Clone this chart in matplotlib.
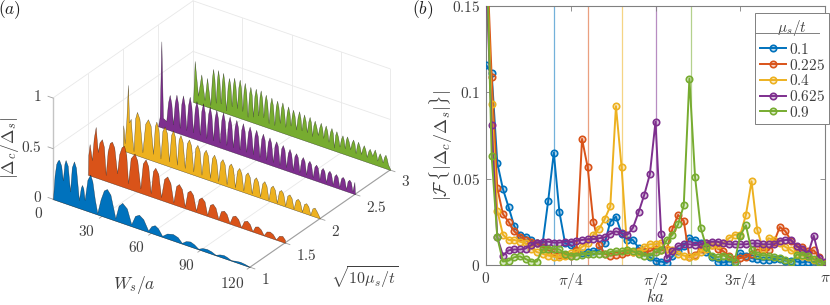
import numpy as np
import matplotlib
matplotlib.use('Agg')
import matplotlib.pyplot as plt
from matplotlib.colors import to_rgba
from mpl_toolkits.mplot3d.art3d import Poly3DCollection

W, H = 830, 305

colors = ['#0072BD', '#D95319', '#EDB120', '#7E2F8E', '#77AC30']
mu_labels = ['$0.1$', '$0.225$', '$0.4$', '$0.625$', '$0.9$']
sqrt_mu = [1, 1.5, 2, 2.5, 3]

# panel (a): outlines
blue_ws = [0, 1, 2, 3, 3.7, 5, 6, 7, 7.7, 9, 10.4, 11.5, 12.8, 14, 15.8, 17, 17.7, 18.5, 19.3, 21, 22.7, 24, 25.5, 27,
           29, 31, 32.9, 35, 38, 40, 42.2, 45, 47.7, 50, 52.4, 55, 58, 60, 62, 64, 66.5, 69.5, 73, 76, 78.5,
           81, 83.6, 86, 88.5, 91, 93.8, 96.5, 99, 101.5, 104, 106, 108.5, 111, 114, 117, 120]
blue_val = [0, .24, .36, .4, .41, .36, .22, .39, .43, .38, .135, .38, .445, .39, .08, .21, .24, .21, .1, .31, .37, .31, .14, .015,
            .16, .26, .285, .24, .025, .16, .2, .16, .02, .115, .14, .11, .015, .07, .09, .07, .01, .05, .065, .05, .008,
            .04, .05, .035, .006, .027, .033, .024, .005, .023, .03, .022, .004, .014, .02, .014, 0]

orange_ws = [0, .2, 1, 2.4, 3.5, 4.7, 5.3, 6, 7, 8.5, 9.7, 10.8, 12, 13.3, 14.6, 16, 17.7, 19, 20.5, 22, 23.3, 24.4,
             26, 28.4, 30, 31.9, 33.4, 35.1, 36.7, 38.2, 39.6, 41, 42.8, 44.5, 46.4, 48.3, 50.2, 52, 53.7, 55.4, 57.2, 59,
             60.6, 62.3, 64, 65.8, 67.5, 69.2, 71, 72.6, 74.3, 76, 77.7, 79.4, 81, 82.8, 84.5, 86.2, 88, 89.7, 91.5, 93.3,
             95, 96.9, 98.6, 100.2, 101.8, 103.5, 105.3, 107, 108.8, 110.7, 112.6, 114.5, 116.4, 118.4, 120]
orange_val = [0, .2, .31, .16, .38, .5, .38, .26, .36, .4, .33, .06, .3, .39, .41, .36, .115, .31, .39, .41, .33, .055,
              .31, .37, .31, .045, .3, .35, .29, .035, .26, .3, .25, .03, .22, .255, .2, .02, .19, .22, .18, .018,
              .17, .195, .16, .015, .14, .165, .135, .012, .12, .14, .11, .01, .095, .11, .085, .008, .085, .1, .075, .006,
              .075, .09, .065, .005, .06, .07, .05, .004, .05, .06, .045, .004, .05, .06, .03]

yellow_ws = [0, .1, .5, 1, 2, 3, 3.7, 4.7, 5.3, 6.4, 7.4, 8.5, 10, 11.8, 13.5, 15.2, 16.8, 18.3, 19.4, 20.3, 21.6, 22.8,
             24, 25.4, 26.8, 28, 29.3, 30.5, 31.7, 32.8, 33.9, 35, 36.3, 37.6, 38.9, 40.2, 41.5, 42.8, 44, 45.3, 46.6, 47.8,
             49.1, 50.4, 51.7, 53, 54.2, 55.5, 56.8, 58, 59.3, 60.6, 61.9, 63.1, 64.4, 65.7, 67, 68.2, 69.5, 70.8, 72.1, 73.3,
             74.6, 75.9, 77.2, 78.4, 79.7, 81, 82.3, 83.5, 84.8, 86.1, 87.4, 88.6, 89.9, 91.2, 92.5, 93.7, 95, 96.3, 97.6,
             98.8, 100.1, 101.4, 102.7, 103.9, 105.2, 106.5, 107.8, 109, 110.3, 111.6, 112.9, 114.1, 115.4, 116.7, 118, 119.4, 120]
yellow_val = [0, .25, .2, .08, .3, .665, .3, .34, .2, .03, .36, .43, .37, .05, .34, .395, .34, .07, .35, .4, .33, .05,
              .33, .38, .32, .05, .32, .37, .31, .045, .3, .35, .29, .04, .29, .335, .28, .035, .27, .31, .26, .03,
              .25, .29, .24, .028, .23, .27, .22, .025, .22, .255, .21, .022, .21, .24, .2, .02, .19, .225, .18, .018,
              .18, .21, .17, .016, .16, .19, .15, .014, .15, .18, .14, .012, .14, .165, .13, .01, .13, .15, .12,
              .01, .115, .135, .105, .008, .1, .12, .095, .008, .09, .105, .08, .006, .075, .09, .06, .02, 0]

purple_ws = [0, 1, 2, 3, 5, 6.1, 7.1, 8.1, 9.1, 10.2, 11.2, 12.2, 13.2, 14.2, 15.2, 16.2, 17.2, 18.3, 19.3, 20.3, 21.3,
             22.4, 23.4, 24.4, 25.4, 26.4, 27.4, 28.4, 29.4, 30.5, 31.5, 32.5, 33.5, 34.5, 35.5, 36.5, 37.5, 38.6, 39.6,
             40.6, 41.6, 42.6, 43.6, 44.6, 45.6, 46.7, 47.7, 48.7, 49.7, 50.7, 51.7, 52.7, 53.7, 54.8, 55.8, 56.8, 57.8,
             58.8, 59.8, 60.8, 61.8, 62.9, 63.9, 64.9, 65.9, 66.9, 67.9, 68.9, 69.9, 71, 72, 73, 74, 75, 76, 77, 78,
             79.1, 80.1, 81.1, 82.1, 83.1, 84.1, 85.1, 86.1, 87.2, 88.2, 89.2, 90.2, 91.2, 92.2, 93.2, 94.2, 95.3, 96.3,
             97.3, 98.3, 99.3, 100.3, 101.3, 102.3, 103.4, 104.4, 105.4, 106.4, 107.4, 108.4, 109.4, 110.4, 111.5, 112.5,
             113.5, 114.5, 115.5, 116.5, 117.5, 118.4, 119.6, 120]
purple_val = [0, .1, .85, .1, .08, .27, .35, .27, .07, .29, .375, .29, .06, .3, .39, .3, .06, .31, .4, .31, .06,
              .3, .38, .3, .06, .3, .38, .3, .05, .29, .37, .29, .05, .28, .36, .28, .05, .28, .36,
              .28, .05, .27, .34, .27, .05, .26, .33, .26, .05, .25, .32, .25, .05, .25, .31, .25, .05,
              .24, .3, .24, .045, .23, .285, .23, .04, .22, .27, .22, .04, .21, .255, .21, .035, .2, .24, .2, .035,
              .18, .225, .18, .03, .17, .205, .17, .03, .155, .19, .155, .03, .145, .175, .145, .025, .135, .16,
              .135, .025, .125, .15, .125, .02, .12, .145, .12, .02, .11, .135, .11, .02, .11, .13,
              .11, .02, .105, .125, .105, .02, .12, 0]

green_ws = [0, 1, 3, 5, 7, 8.5, 10.5, 11.5, 12.2, 13, 13.8, 14.6, 15.2, 16, 16.8, 17.6, 18.3, 19.1, 20, 21.1, 21.9, 22.7, 23.5,
            24.3, 25, 25.8, 26.7, 27.6, 28.4, 29.2, 30, 30.8, 31.5, 32.3, 33.2, 34.1, 34.9, 35.7, 36.5, 37.4, 38.2, 39, 39.7,
            40.5, 41.2, 42, 42.8, 43.6, 44.3, 45.1, 46, 46.9, 47.7, 48.6, 49.5, 50.4, 51.2, 52, 52.8, 53.6, 54.4, 55.3, 56.2,
            57.1, 57.9, 58.7, 59.4, 60.2, 60.9, 61.8, 62.7, 63.7, 64.6, 65.4, 66.1, 66.9, 67.6, 68.5, 69.3, 70.2, 71, 71.8,
            72.5, 73.3, 74.1, 75, 76, 76.9, 77.8, 78.6, 79.3, 80, 80.8, 81.7, 82.5, 83.4, 84.3, 85.1, 85.8, 86.6, 87.3, 88.3,
            89.2, 90.1, 91, 91.7, 92.4, 93.1, 93.8, 94.8, 95.7, 96.6, 97.5, 98.3, 99, 99.8, 100.5, 101.4, 102.3, 103.2, 104,
            104.9, 105.8, 106.7, 107.6, 108.4, 109.2, 110, 110.7, 111.5, 112.2, 113, 113.7, 114.6, 115.5, 116.4, 117.2, 118, 118.7, 120]
green_val = [0, .41, .08, .3, .06, .285, .03, .3, .395, .3, .07, .31, .4, .31, .08, .3, .39, .3, .03, .28, .36, .29, .09,
             .3, .38, .3, .09, .3, .38, .3, .08, .29, .365, .28, .04, .27, .345, .27, .06, .27, .345, .27, .09,
             .28, .345, .27, .09, .26, .32, .25, .05, .24, .31, .24, .05, .24, .3, .24, .09, .24, .3, .23, .07,
             .22, .28, .22, .1, .21, .265, .21, .08, .21, .27, .21, .09, .2, .255, .2, .09, .2, .25, .2,
             .07, .18, .23, .18, .1, .18, .23, .18, .09, .17, .22, .17, .07, .17, .215, .17, .03, .16, .2, .15,
             .06, .14, .18, .14, .06, .15, .185, .14, .07, .14, .175, .14, .05, .13, .17, .13, .06, .12, .155,
             .12, .05, .11, .14, .11, .08, .12, .15, .11, .05, .1, .13, .1, .05, .11, .135, .1, .05, .01]

curves_ws = [blue_ws, orange_ws, yellow_ws, purple_ws, green_ws]
curves_val = [blue_val, orange_val, yellow_val, purple_val, green_val]

# panel (b)
f_blue = [.116, .111, .059, .044, .0335, .0225, .0175, .0165, .0145, .0125, .012, .037, .065, .0305, .0125, .0115, .0085,
          .007, .0075, .008, .0085, .0125, .025, .028, .018, .0145, .0145, .01, .0075, .0045, .0025, .002, .0012, .005,
          .008, .011, .0155, .0145, .013, .0075, .0045, .002, .0015, .002, .0015, .0068, .0055, .004, .0035, .003, .003,
          .0035, .0035, .0025, .0025, .002, .0015, .002, .0005, .0003, 0]
f_orange = [.19, .109, .0445, .0295, .025, .0195, .0165, .0145, .0135, .0125, .0105, .0085, .0075, .006, .006, .005, .0085,
            .073, .0565, .025, .0115, .0065, .0055, .006, .0065, .0075, .0075, .008, .008, .008, .0095, .0085, .009, .021,
            .029, .0255, .0045, .006, .0095, .0125, .0115, .0095, .008, .005, .0035, .004, .0045, .0065, .009, .0085,
            .0085, .0135, .022, .0195, .014, .0105, .0105, .008, .0085, .0045, .001]
f_yellow = [.18, .0935, .0315, .0175, .0145, .0145, .0135, .0125, .0095, .0075, .0065, .0055, .0048, .0045, .0055, .007, .0075,
            .0105, .0125, .0175, .021, .0265, .034, .092, .0565, .0085, .0075, .0075, .0105, .012, .012, .013, .009, .0085,
            .0065, .0055, .0045, .0055, .0075, .0095, .0115, .0115, .0125, .0155, .0175, .0175, .029, .0485, .0205, .0095,
            .0155, .0145, .0125, .0105, .0085, .0065, .0055, .0045, .003, .002, .0005]
f_purple = [.17, .081, .016, .0055, .0085, .009, .009, .0095, .0115, .013, .0135, .0135, .013, .013, .0135, .0135, .014, .0145,
            .015, .015, .0155, .016, .018, .0195, .0185, .0175, .0215, .0305, .0405, .0525, .083, .018, .004, .008, .011,
            .012, .012, .0115, .012, .013, .0135, .0135, .0125, .012, .012, .012, .012, .0125, .0125, .012, .012, .012,
            .014, .0145, .0145, .011, .009, .0065, .017, .004, .0015]
f_green = [.2, .063, .016, .002, .0025, .0045, .005, .0035, .002, .002, .009, .0095, .0095, .009, .0065, .0055, .0055, .006,
           .0065, .0065, .0065, .0065, .0075, .008, .008, .0085, .008, .0065, .0055, .0055, .0075, .0085, .0145, .0175,
           .0235, .0345, .108, .051, .0215, .0105, .0055, .0045, .0055, .0045, .002, .017, .023, .0085, .006, .0055, .0055,
           .0045, .004, .003, .0015, .006, .006, .005, .0035, .002, .0005]
spectra = [f_blue, f_orange, f_yellow, f_purple, f_green]
ka_step = np.pi / 60
peak_lines = [.2, .3, .4, .5, .605]

plt.rcParams['mathtext.fontset'] = 'cm'
plt.rcParams['font.family'] = 'serif'
plt.rcParams['font.serif'] = ['DejaVu Serif']
TEXT = '#404040'
FS = 11


def px_text(x, y, s, **kw):
    kw.setdefault('ha', 'center')
    kw.setdefault('va', 'center')
    kw.setdefault('color', TEXT)
    kw.setdefault('fontsize', FS)
    fig.text(x / W, 1 - y / H, s, **kw)


fig = plt.figure(figsize=(W / 100, H / 100), dpi=100)

# --- (a) waterfall
S = 500
ax = fig.add_axes([-35.25 / W, -85.75 / H, S / W, S / H], projection='3d', proj_type='ortho', computed_zorder=False)
ax.set_box_aspect((241, 243, 116), zoom=0.7018)
ax.view_init(elev=29.3, azim=-54.8)
ax.set_xlim(0, 120, view_margin=0)
ax.set_ylim(1, 3, view_margin=0)
ax.set_zlim(0, 1, view_margin=0)
ax.set_axis_off()
ax.patch.set_alpha(0)

gridc = '#e8e8e8'
for ws in [30, 60, 90, 120]:
    ax.plot([ws, ws], [1, 3], [0, 0], color=gridc, lw=.6, zorder=1)
    ax.plot([ws, ws], [3, 3], [0, 1], color=gridc, lw=.6, zorder=1)
for yy in [1.5, 2, 2.5, 3]:
    ax.plot([0, 120], [yy, yy], [0, 0], color=gridc, lw=.6, zorder=1)
    ax.plot([0, 0], [yy, yy], [0, 1], color=gridc, lw=.6, zorder=1)
for zz in [.5, 1]:
    ax.plot([0, 0], [1, 3], [zz, zz], color=gridc, lw=.6, zorder=1)
    ax.plot([0, 120], [3, 3], [zz, zz], color=gridc, lw=.6, zorder=1)

ax.plot([0, 0], [1, 1], [0, 1], color='#c4c4c4', lw=1.0, zorder=2)
ax.plot([120, 120], [1, 3], [0, 0], color='#a0a0a0', lw=.8, zorder=2)
ax.plot([0, 120], [1, 1], [0, 0], color='#a0a0a0', lw=.8, zorder=2)
for zz in [0, .5, 1]:
    ax.plot([0, -3], [1, 1], [zz, zz], color='#a0a0a0', lw=.6, zorder=2)
for ws in [30, 60, 90, 120]:
    ax.plot([ws, ws], [1, .96], [0, 0], color='#a0a0a0', lw=.6, zorder=2)
for yy in sqrt_mu:
    ax.plot([120, 123], [yy, yy], [0, 0], color='#a0a0a0', lw=.6, zorder=2)

for i in range(4, -1, -1):
    verts = list(zip(curves_ws[i], [sqrt_mu[i]] * len(curves_ws[i]), curves_val[i]))
    verts = verts + [(120, sqrt_mu[i], 0), (0, sqrt_mu[i], 0)]
    poly = Poly3DCollection([verts], facecolors=colors[i], edgecolors=(0, 0, 0, .6), linewidths=.3,
                            zorder=10 + (4 - i), shade=False)
    ax.add_collection3d(poly)

for lab, x, y in zip(['1', '0.5', '0'], [42, 42, 42], [96, 147, 197]):
    px_text(x, y, f'${lab}$', ha='right')
for lab, x, y in zip(['0', '30', '60', '90', '120'], [39, 86, 136, 186, 232], [213, 231, 248, 266, 283]):
    px_text(x, y, f'${lab}$')
for lab, x, y in zip(['1', '1.5', '2', '2.5', '3'], [265, 306, 335, 376, 405], [280, 255, 231, 207, 182]):
    px_text(x, y, f'${lab}$')
px_text(134, 285, r'$W_s/a$', fontsize=12.5)
px_text(365, 278, r'$\sqrt{10\mu_s/t}$', fontsize=11.5)
px_text(10, 148, r'$|\Delta_c/\Delta_s|$', rotation=90, fontsize=12.5)
px_text(10, 10, r'$(a)$', fontsize=12.5, color='#202020')
px_text(423, 10, r'$(b)$', fontsize=12.5, color='#202020')
px_text(656, 297.5, r'$ka$', fontsize=12)
px_text(441, 146, r'$|\mathcal{F}\,\{|\Delta_c/\Delta_s|\}|$', rotation=90, fontsize=13)

# --- (b) spectra
ax2 = fig.add_axes([486 / W, 40 / H, 339 / W, 259 / H])
ka = ka_step * np.arange(61)
for i in range(5):
    ax2.axvline(peak_lines[i] * np.pi, color=colors[i], lw=.9, alpha=.55, zorder=1)
    ax2.plot(ka, spectra[i], '-', color=colors[i], lw=1.4, zorder=3 + i, label='_nolegend_')
    ax2.plot(ka, spectra[i], 'o', mec=colors[i], ms=4.6, mfc=to_rgba(colors[i], .25), mew=1.2, zorder=3 + i)
    ax2.plot([], [], '-o', color=colors[i], lw=1.4, mec=colors[i], ms=4.6, mfc=to_rgba(colors[i], .25), mew=1.2,
             label=mu_labels[i])
ax2.set_xlim(0, np.pi)
ax2.set_ylim(0, .15)
ax2.set_xticks([0, np.pi / 4, np.pi / 2, 3 * np.pi / 4, np.pi])
ax2.set_xticklabels(['$0$', r'$\pi/4$', r'$\pi/2$', r'$3\pi/4$', r'$\pi$'], fontsize=FS, color=TEXT)
ax2.set_yticks([0, .05, .1, .15])
ax2.set_yticklabels(['$0$', '$0.05$', '$0.1$', '$0.15$'], fontsize=FS, color=TEXT)
ax2.tick_params(direction='in', length=3.5, width=.6, color='#808080', top=True, right=True, pad=4)
for sp in ax2.spines.values():
    sp.set_color('#808080')
    sp.set_linewidth(.8)

leg = ax2.legend(title=r'$\mu_s/t$', loc='upper left', bbox_to_anchor=((755 - 486) / 339, (265 - 13) / 259),
                 fontsize=FS, title_fontsize=11, frameon=True, fancybox=False, edgecolor='#808080',
                 framealpha=1, borderpad=.3, labelspacing=.05, handlelength=1.7, handletextpad=.2, borderaxespad=0)
leg._legend_box.sep = 3
leg.get_frame().set_linewidth(.7)
for t in leg.get_texts():
    t.set_color(TEXT)
leg.get_title().set_color(TEXT)
leg.set_zorder(20)
ax2.plot([(755 - 486) / 339, (819 - 486) / 339], [(265 - 33) / 259] * 2, color='#808080', lw=.7,
         transform=ax2.transAxes, zorder=21)

fig.savefig('out.png', dpi=100)
